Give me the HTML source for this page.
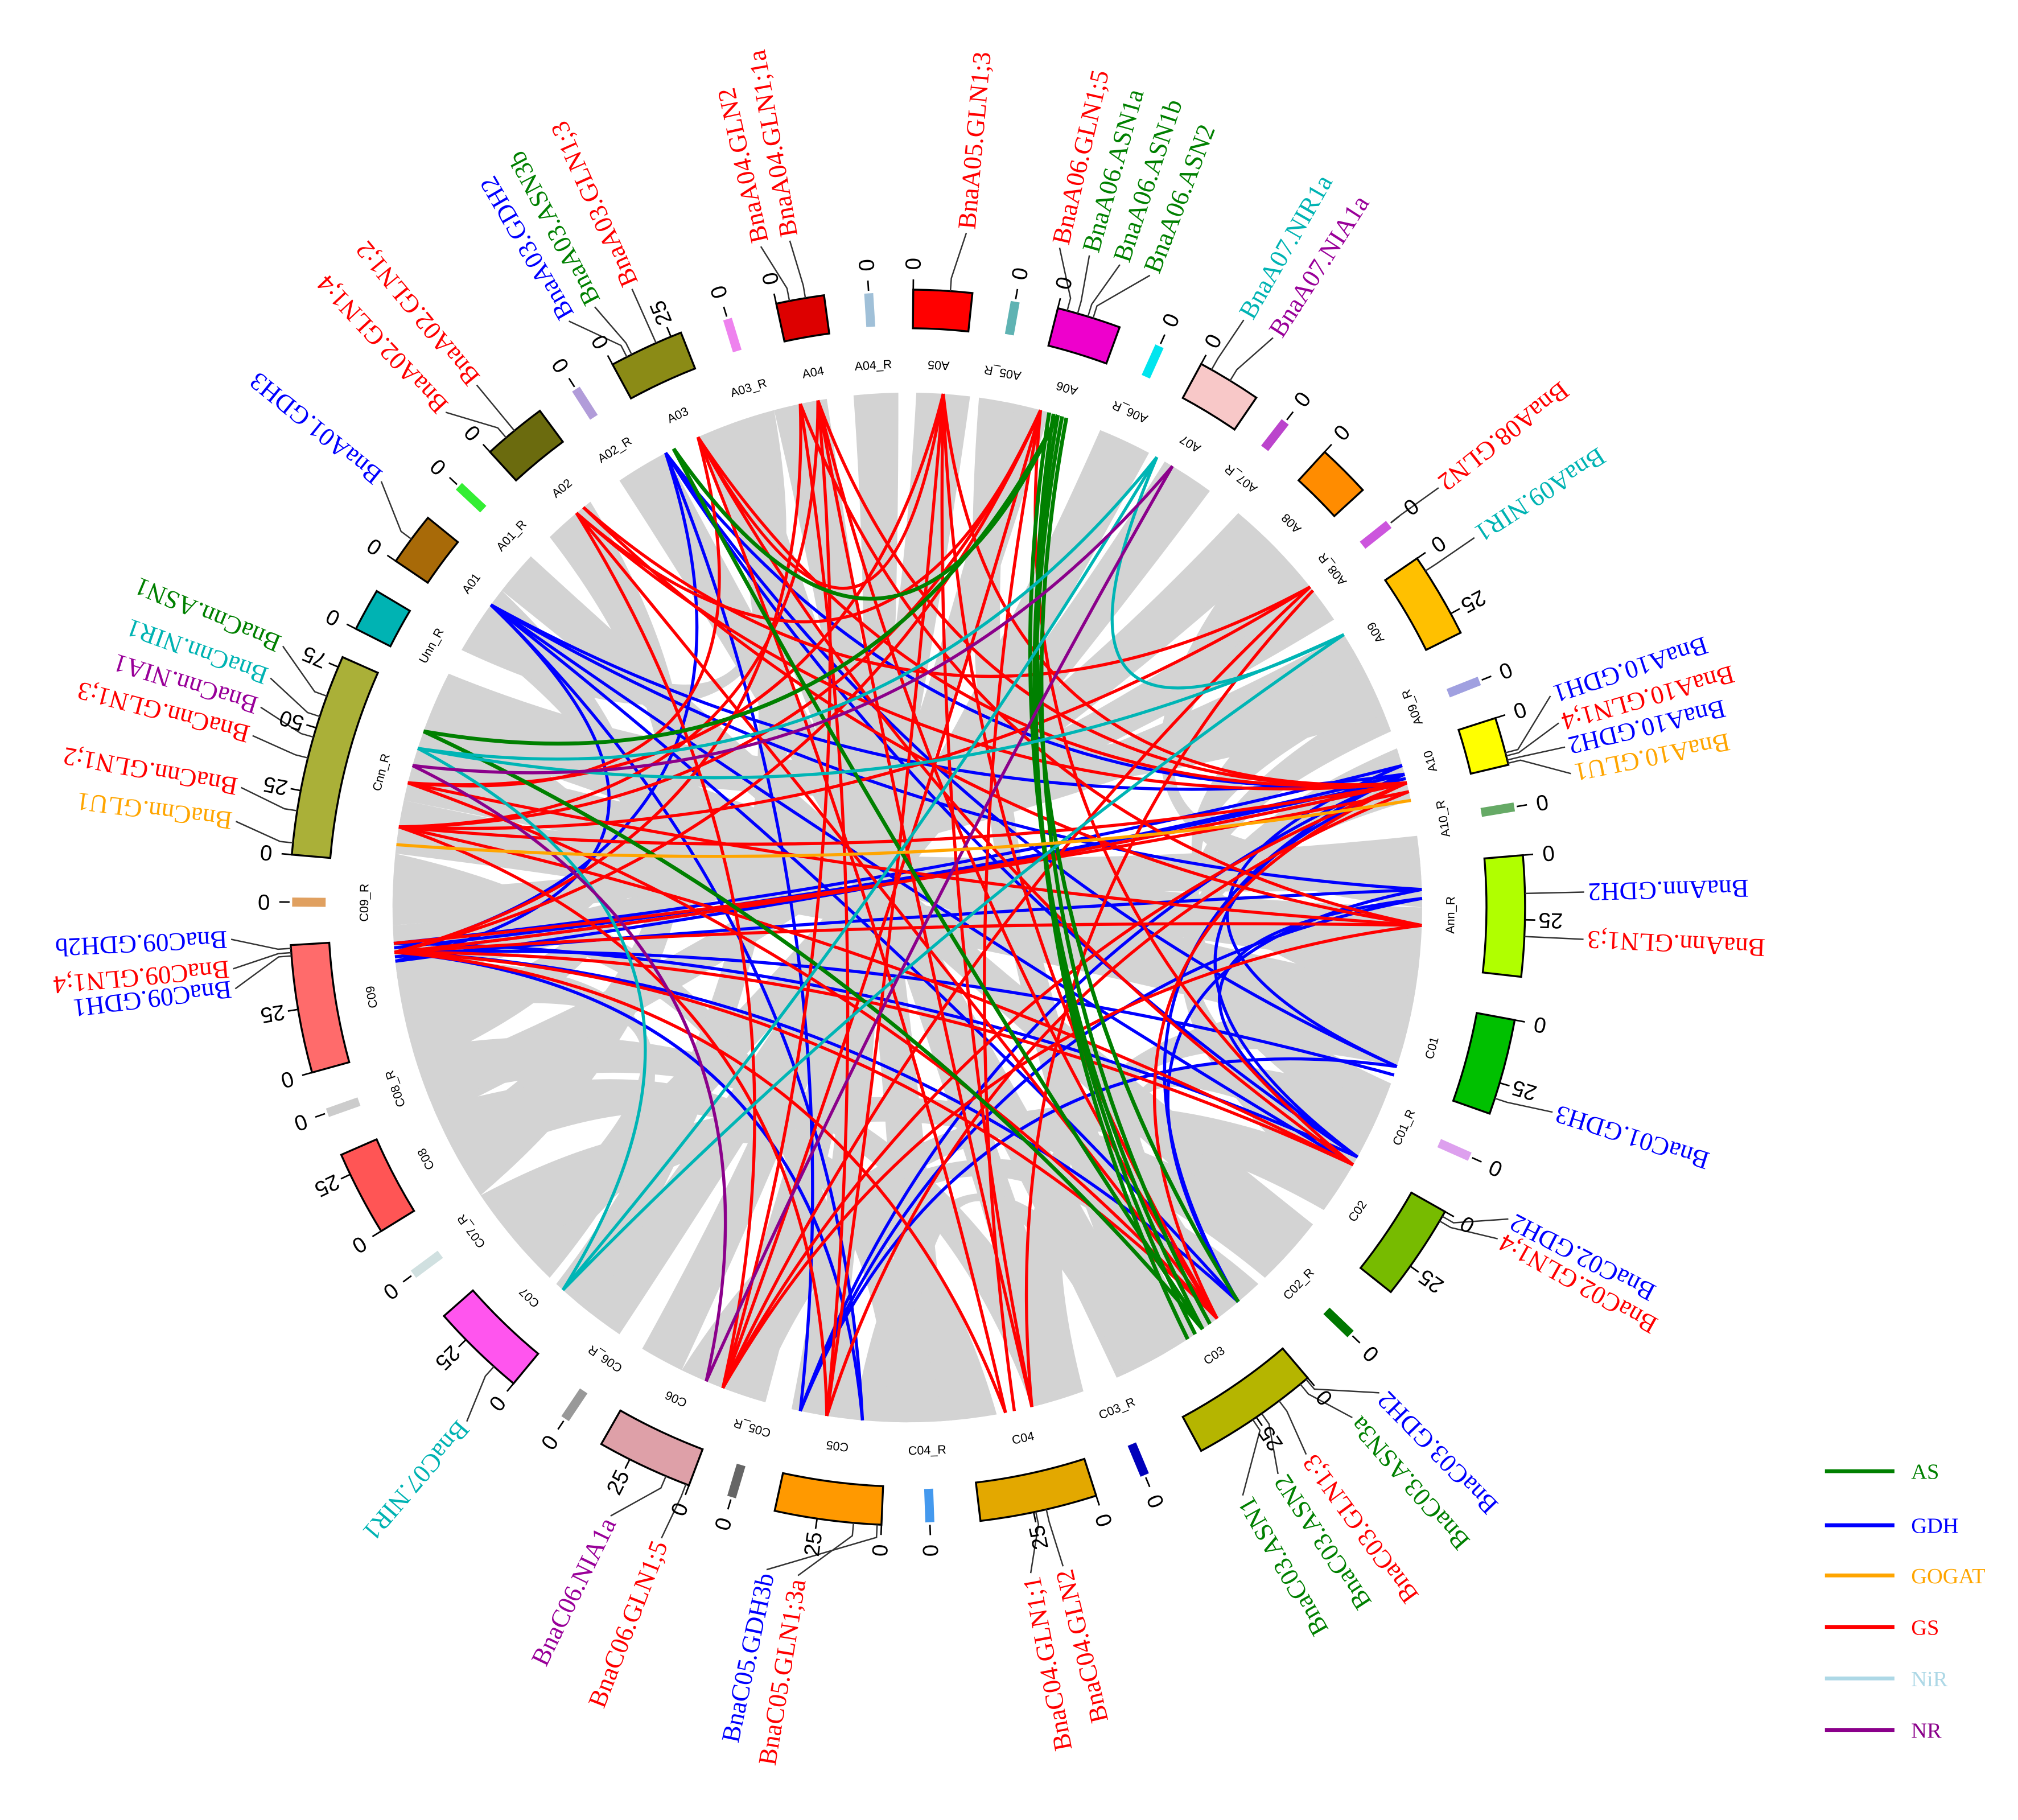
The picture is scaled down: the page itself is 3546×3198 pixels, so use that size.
<!DOCTYPE html>
<html><head><meta charset="utf-8">
<style>
html,body{margin:0;padding:0;background:#fff;}
svg{display:block;}
</style></head>
<body>
<svg id="s" xmlns="http://www.w3.org/2000/svg" width="3546" height="3198" viewBox="0 0 1568 1414" preserveAspectRatio="none">
<rect x="0" y="0" width="1568" height="1414" fill="#fff"/>
<g id="gray"></g><g id="links"></g><g id="bars"></g><g id="txt"></g>
<g id="legend" font-family="Liberation Serif, serif" font-size="17">
<line x1="1418" y1="1143" x2="1472" y2="1143" stroke="#008000" stroke-width="3"/><text x="1485" y="1149" fill="#008000">AS</text>
<line x1="1418" y1="1185" x2="1472" y2="1185" stroke="#0000ff" stroke-width="3"/><text x="1485" y="1191" fill="#0000ff">GDH</text>
<line x1="1418" y1="1224" x2="1472" y2="1224" stroke="#ffa500" stroke-width="3"/><text x="1485" y="1230" fill="#ffa500">GOGAT</text>
<line x1="1418" y1="1264" x2="1472" y2="1264" stroke="#ff0000" stroke-width="3"/><text x="1485" y="1270" fill="#ff0000">GS</text>
<line x1="1418" y1="1304" x2="1472" y2="1304" stroke="#add8e6" stroke-width="3"/><text x="1485" y="1310" fill="#add8e6">NiR</text>
<line x1="1418" y1="1344" x2="1472" y2="1344" stroke="#8b008b" stroke-width="3"/><text x="1485" y="1350" fill="#8b008b">NR</text>
</g>
</svg>
<script>
(function(){
var NS="http://www.w3.org/2000/svg";
var CX=705,CY=705,R=400;
function P(a,r){var t=a*Math.PI/180;return [CX+r*Math.sin(t),CY-r*Math.cos(t)];}
function f(p){return p[0].toFixed(2)+" "+p[1].toFixed(2);}
function el(parent,tag,attrs,text){var e=document.createElementNS(NS,tag);for(var k in attrs)e.setAttribute(k,attrs[k]);if(text!==undefined)e.textContent=text;document.getElementById(parent).appendChild(e);return e;}
function ctrl(a,b,k){var p=P(a,R),q=P(b,R);return [CX+((p[0]+q[0])/2-CX)*k,CY+((p[1]+q[1])/2-CY)*k];}

var rib=[[[302,308],[252,258]],[[316,322],[236,244]],[[326,332],[150,156]],[[336,342],[160,165]],[[345,351],[175,181]],[[354,359],[188,193]],[[1,7],[196,202]],[[11,16],[206,211]],[[22,28],[214,220]],[[30,36],[225,231]],[[40,46],[246,251]],[[50,56],[262,266]],[[58,64],[268,272]],[[66,70],[110,116]],[[72,78],[118,124]],[[82,88],[276,281]],[[90,97],[282,288]],[[99,106],[290,296]],[[128,134],[308,313]],[[137,143],[197,203]],[[170,176],[232,236]],[[112,118],[140,145]],[[300,306],[340,345]],[[258,264],[224,230]],[[60,66],[96,101]],[[180,186],[150,155]],[[44,50],[84,90]],[[262,268],[288,293]],
[[240,247],[176,182]],[[270,276],[185,190]],[[248,254],[160,166]],[[228,234],[130,136]],[[276,282],[100,106]],[[290,297],[62,68]],[[160,166],[102,108]],[[200,206],[120,126]],[[8,12],[146,152]],[[338,344],[218,223]]];
rib.forEach(function(r){
  var a=r[0],b=r[1];
  var c1=ctrl(a[1],b[0],0.2),c2=ctrl(b[1],a[0],0.2);
  var d="M"+f(P(a[0],R))+" A"+R+" "+R+" 0 0 1 "+f(P(a[1],R))+" Q"+f(c1)+" "+f(P(b[0],R))+" A"+R+" "+R+" 0 0 1 "+f(P(b[1],R))+" Q"+f(c2)+" "+f(P(a[0],R))+" Z";
  el("gray","path",{d:d,fill:"#d3d3d3",stroke:"none"});
});

var L={
"#0000ff":[[264,75],[265,76],[266,74],[265.5,75.5],[264.5,88],[265,109],[266,119],[265,140],[265,332],[264,306],[75,306],[76,332],[75,192],[76,119],[75,140],[88,306],[89,192],[108,332],[119,332],[192,332],[185,306],[140,306],[108,192],[88,140],[74,108],[265,185],[89,119],[306,120]],
"#ff0000":[[76,265],[77,266],[76,320],[76,336],[76,350],[76,4],[77,189],[76,201],[76,279],[76,143],[92,265],[92,321],[92,348],[92,201],[92,284],[120,265],[120,336],[120,15],[120,279],[143,320],[143,4],[143,265],[143,284],[166,350],[169,336],[169,265],[168,15],[189,348],[189,4],[189,279],[201,350],[201,15],[201,320],[279,350],[279,15],[284,4],[284,336],[320,15],[336,4],[348,265],[51.5,279],[51.5,201],[51.5,321],[52,166],[4,166],[15,265],[350,143]],
"#008000":[[16,145],[17,146],[17.5,147],[18,144],[16.5,140],[290,17],[290,145],[333,17],[333,145]],
"#00b5b5":[[29,222],[58,288],[29,288],[58,222],[29,58],[288,222]],
"#8b008b":[[31,203],[31,286],[203,286]],
"#ffa500":[[78,277]]
};
for(var col in L){L[col].forEach(function(p){
  var c=ctrl(p[0],p[1],0.3);
  el("links","path",{d:"M"+f(P(p[0],R))+" Q"+f(c)+" "+f(P(p[1],R)),fill:"none",stroke:col,"stroke-width":(col=="#008000"?3:2.4)});
});}

var B=[["A01",306.6,5,"#a86a08"],["A01_R",313.2,0,"#33ee33"],["A02",320.5,6,"#6b6b0e"],["A02_R",327.4,0,"#b19cd9"],["A03",335,7,"#8b8b16"],["A03_R",343,0,"#ee82ee"],["A04",350,4.5,"#dd0000"],["A04_R",356.4,0,"#a0c0d8"],["A05",3.3,5.5,"#ff0000"],["A05_R",10.1,0,"#5fb3b3"],["A06",17.1,6,"#ee00cc"],["A06_R",24.2,0,"#00e5ee"],["A07",31.4,6,"#f8c8c8"],["A07_R",37.9,0,"#bb44cc"],["A08",45,5,"#ff8c00"],["A08_R",51.5,0,"#cc55dd"],["A09",59.6,8,"#ffc000"],["A09_R",68.4,0,"#a0a0e0"],["A10",74.4,4.5,"#ffff00"],["A10_R",80.6,0,"#66aa66"],["Ann_R",90.8,11.3,"#b0ff00"],["C01",105,9,"#00c000"],["C01_R",113.9,0,"#dda0ee"],["C02",124,9,"#77bb00"],["C02_R",133.9,0,"#007700"],["C03",145.6,12,"#b5b500"],["C03_R",157.3,0,"#0000bb"],["C04",167.7,11,"#e3a800"],["C04_R",177.9,0,"#4499ee"],["C05",187.4,10,"#ff9900"],["C05_R",196.6,0,"#666666"],["C06",205.2,9,"#dea0a8"],["C06_R",213.8,0,"#999999"],["C07",224.1,9,"#ff55ee"],["C07_R",233.4,0,"#d0e0e0"],["C08",242.4,8,"#ff5555"],["C08_R",250.5,0,"#cccccc"],["C09",260.5,12,"#ff6b6b"],["C09_R",270.5,0,"#e0a060"],["Cnn_R",284.4,19,"#aab038"],["Unn_R",298.8,4,"#00b3b3"]];
var r1=450,r2=480;
function rotFor(a){a=((a%360)+360)%360;return (a>=213||a<45)?{rot:a-90,anc:"start",left:true}:{rot:a+90,anc:"end",left:false};}
function tick(a,lab){
  var p1=P(a,r2),p2=P(a,r2+8);
  el("bars","line",{x1:p1[0],y1:p1[1],x2:p2[0],y2:p2[1],stroke:"#000","stroke-width":1.2});
  var q=P(a,r2+20),ro=rotFor(a);
  var rot=ro.left?a-90:a+90;
  el("txt","text",{x:q[0],y:q[1],"text-anchor":"middle","dominant-baseline":"central","font-family":"Liberation Sans, sans-serif","font-size":17,transform:"rotate("+rot+" "+q[0]+" "+q[1]+")"},lab);
}
B.forEach(function(b){
  var name=b[0],a=b[1],w=b[2],col=b[3];
  if(w>0){
    var a1=a-w/2,a2=a+w/2;
    var d="M"+f(P(a1,r1))+" A"+r1+" "+r1+" 0 0 1 "+f(P(a2,r1))+" L"+f(P(a2,r2))+" A"+r2+" "+r2+" 0 0 0 "+f(P(a1,r2))+" Z";
    el("bars","path",{d:d,fill:col,stroke:"#000","stroke-width":1.5});
    tick(a1,"0");
    var u=0.24;
    [25,50,75].forEach(function(v){ if(v*u < w-0.5) tick(a1+v*u,String(v)); });
  } else {
    var p1=P(a,r1+2),p2=P(a,r2-2);
    el("bars","line",{x1:p1[0],y1:p1[1],x2:p2[0],y2:p2[1],stroke:col,"stroke-width":7});
    tick(a,"0");
  }
  var q=P(a,422);
  var aa=((a%360)+360)%360;
  var rot=(aa>0&&aa<=180)?aa-180:aa;
  el("txt","text",{x:q[0],y:q[1],"text-anchor":"middle","dominant-baseline":"central","font-family":"Liberation Sans, sans-serif","font-size":9.5,transform:"rotate("+rot+" "+q[0]+" "+q[1]+")"},name);
});

var R_="#ff0000",BL="#0000ff",G="#008000",CY_="#00b3b3",PU="#990099",OR="#ffa500";
var G_=[["BnaA01.GDH3",BL,309,306.6],["BnaA02.GLN1;4",R_,317,319.5],["BnaA02.GLN1;2",R_,320.5,320.5],["BnaA03.GDH2",BL,330,333],["BnaA03.ASN3b",G,332.5,333.5],["BnaA03.GLN1;3",R_,336,336],["BnaA04.GLN2",R_,347.5,349],["BnaA04.GLN1;1a",R_,350,350.5],["BnaA05.GLN1;3",R_,5,4],["BnaA06.GLN1;5",R_,13,15],["BnaA06.ASN1a",G,15.6,16],["BnaA06.ASN1b",G,18.3,17],["BnaA06.ASN2",G,21,17.5],["BnaA07.NIR1a",CY_,29.8,29.5],["BnaA07.NIA1a",PU,32.7,31.5],["BnaA08.GLN2",R_,51.7,51.5],["BnaA09.NIR1",CY_,56.9,57],["BnaA10.GDH1",BL,71.8,75.5],["BnaA10.GLN1;4",R_,74.2,75.8],["BnaA10.GDH2",BL,76.3,76.2],["BnaA10.GLU1",OR,78.6,76.5],["BnaAnn.GDH2",BL,88.7,88.7],["BnaAnn.GLN1;3",R_,92.7,92.7],["BnaC01.GDH3",BL,107.6,108],["BnaC02.GDH2",BL,117.4,120],["BnaC02.GLN1;4",R_,119.3,120.5],["BnaC03.GDH2",BL,135.8,139.8],["BnaC03.ASN3a",G,138.9,140.5],["BnaC03.GLN1;3",R_,143.9,143],["BnaC03.ASN2",G,146.8,145],["BnaC03.ASN1",G,150.3,146],["BnaC04.GLN2",R_,166.7,167],["BnaC04.GLN1;1",R_,169.5,168],["BnaC05.GLN1;3a",R_,189.3,185],["BnaC05.GDH3b",BL,192,182.8],["BnaC06.GLN1;5",R_,201.3,201],["BnaC06.NIA1a",PU,206,203],["BnaC07.NIR1",CY_,220.6,222],["BnaC09.GDH1",BL,263.1,265.5],["BnaC09.GLN1;4",R_,264.8,265.8],["BnaC09.GDH2b",BL,267.3,266.2],["BnaCnn.GLU1",OR,277.3,276],["BnaCnn.GLN1;2",R_,280.2,279],["BnaCnn.GLN1;3",R_,284.7,284],["BnaCnn.NIA1",PU,287.2,286],["BnaCnn.NIR1",CY_,289.8,288],["BnaCnn.ASN1",G,292.7,290]];
G_.forEach(function(g){
  var a=g[2],ba=g[3];
  var p1=P(ba,r2),p2=P(ba,r2+10),p3=P(a,526);
  el("bars","polyline",{points:f(p1)+" "+f(p2)+" "+f(p3),fill:"none",stroke:"#333","stroke-width":1.1});
  var q=P(a,529),ro=rotFor(a);
  el("txt","text",{x:q[0],y:q[1],"text-anchor":ro.anc,"dominant-baseline":"central","font-family":"Liberation Serif, serif","font-size":20,fill:g[1],transform:"rotate("+ro.rot+" "+q[0]+" "+q[1]+")"},g[0]);
});
})();
</script>
</body></html>
